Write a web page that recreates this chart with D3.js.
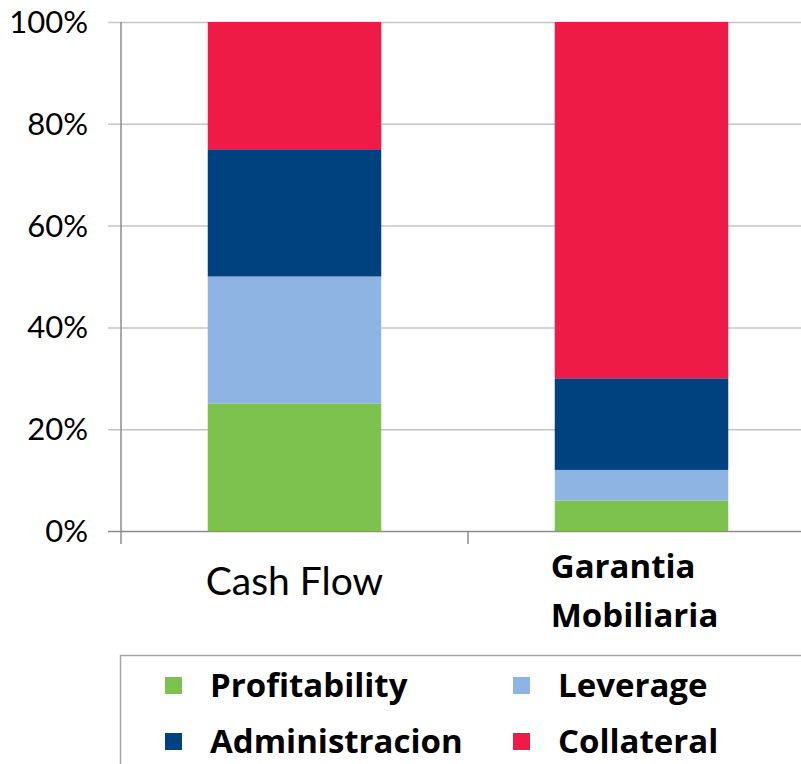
<!DOCTYPE html>
<html>
<head>
<meta charset="utf-8">
<script src="https://cdn.jsdelivr.net/npm/d3@7"></script>
<style>
  body { margin: 0; background: #fff; }
  text { font-family: Lato, "Open Sans", sans-serif; fill: #000; font-variant-ligatures: none; }
  .bold { font-family: "Open Sans", sans-serif; font-weight: bold; }
</style>
</head>
<body>
<svg width="801" height="764"></svg>
<script>
// data
const categories = ["Cash Flow", "Garantia Mobiliaria"];
const seriesNames = ["Profitability", "Leverage", "Administracion", "Collateral"];
const profitability = [25, 6];
const leverage = [25, 6];
const administracion = [25, 18];
const collateral = [25, 70];
const yTicks = [0, 20, 40, 60, 80, 100];
const colors = ["#7dc24e", "#8eb4e3", "#00427f", "#ed1b46"];

let svg = d3.select("svg"),
    margin = {top: 22, left: 121, bottom: 233},
    height = +svg.attr("height") - margin.bottom;

let rows = categories.map((c, i) => ({
    cat: c,
    Profitability: profitability[i],
    Leverage: leverage[i],
    Administracion: administracion[i],
    Collateral: collateral[i]
}));

let xScale = d3.scaleBand()
    .domain(categories)
    .range([margin.left, 815])
    .paddingInner(0.5)
    .paddingOuter(0.25);
let yScale = d3.scaleLinear()
    .domain([0, 100])
    .range([height, margin.top]);
let colorScale = d3.scaleOrdinal()
    .domain(seriesNames)
    .range(colors);

// gridlines
svg.append("g")
    .selectAll("line")
    .data(yTicks)
    .join("line")
    .attr("x1", margin.left - 13)
    .attr("x2", 801)
    .attr("y1", d => yScale(d) + 0.5)
    .attr("y2", d => yScale(d) + 0.5)
    .attr("stroke", d => d === 0 ? "#8c8c8c" : "#c4c4c4")
    .attr("stroke-width", 1.5);

// y labels
svg.append("g")
    .selectAll("text")
    .data(yTicks)
    .join("text")
    .attr("x", margin.left - 33)
    .attr("y", d => yScale(d) + 11)
    .attr("text-anchor", "end")
    .attr("font-size", "31px")
    .text(d => d + "%");

// stacked bars
let stack = d3.stack().keys(seriesNames)(rows);
svg.append("g")
    .selectAll("g")
    .data(stack)
    .join("g")
    .attr("fill", d => colorScale(d.key))
    .selectAll("rect")
    .data(d => d)
    .join("rect")
    .attr("x", d => xScale(d.data.cat))
    .attr("width", xScale.bandwidth())
    .attr("y", d => yScale(d[1]))
    .attr("height", d => yScale(d[0]) - yScale(d[1]));

// y axis line
svg.append("line")
    .attr("x1", margin.left).attr("x2", margin.left)
    .attr("y1", margin.top).attr("y2", height + 13)
    .attr("stroke", "#8c8c8c").attr("stroke-width", 1.5);

// x axis category ticks
let bounds = [xScale.range()[0], xScale.range()[0] + xScale.step(), xScale.range()[0] + 2 * xScale.step()];
svg.append("g")
    .selectAll("line")
    .data(bounds.slice(1))
    .join("line")
    .attr("x1", d => d).attr("x2", d => d)
    .attr("y1", height).attr("y2", height + 13)
    .attr("stroke", "#8c8c8c").attr("stroke-width", 1.5);

// category labels
svg.append("text")
    .attr("x", xScale(categories[0]) + xScale.bandwidth() / 2)
    .attr("y", 595)
    .attr("text-anchor", "middle")
    .attr("font-size", "39px")
    .text(categories[0]);

let lbl = svg.append("text")
    .attr("class", "bold")
    .attr("font-size", "33px");
categories[1].split(" ").forEach((w, i) => {
    lbl.append("tspan")
        .attr("x", xScale(categories[1]) - 4)
        .attr("y", 578 + i * 49)
        .text(w);
});

// legend
svg.append("rect")
    .attr("x", 120.5).attr("y", 655.5)
    .attr("width", 700).attr("height", 200)
    .attr("fill", "none")
    .attr("stroke", "#a6a6a6")
    .attr("stroke-width", 1.5);

let legend = svg.append("g")
    .selectAll("g")
    .data(seriesNames)
    .join("g")
    .attr("transform", (d, i) => "translate(" + (165 + (i % 2) * 348) + "," + (677 + Math.floor(i / 2) * 56) + ")");
legend.append("rect")
    .attr("width", 17).attr("height", 17)
    .attr("fill", d => colorScale(d));
legend.append("text")
    .attr("class", "bold")
    .attr("x", 45)
    .attr("y", 20)
    .attr("font-size", "33px")
    .text(d => d);
</script>
</body>
</html>
